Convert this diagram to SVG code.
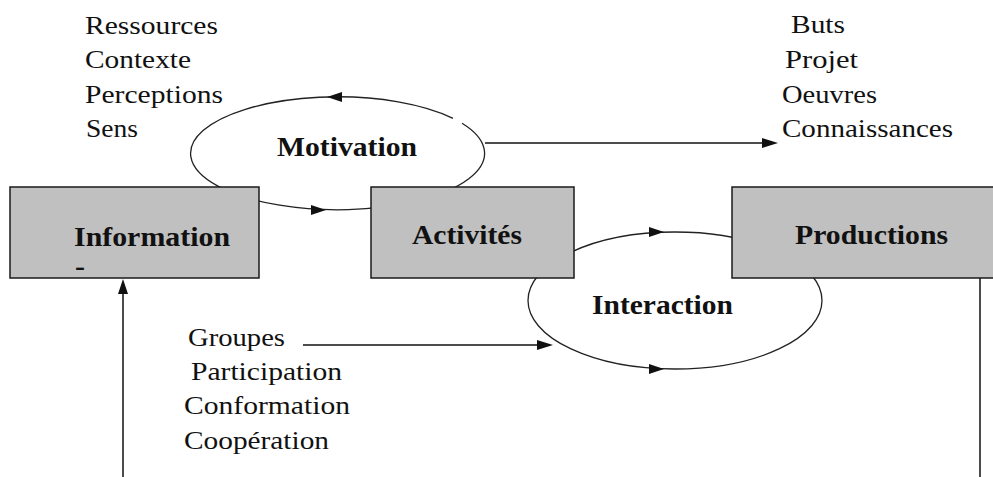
<svg xmlns="http://www.w3.org/2000/svg" width="993" height="477" viewBox="0 0 993 477">
<style>
.box{fill:#c0c0c0;stroke:#1a1a1a;stroke-width:1.5}
.ell{fill:none;stroke:#222;stroke-width:1.3}
.ln{fill:none;stroke:#111;stroke-width:1.5}
.ah{fill:#111}
.t{font-family:"Liberation Serif","Times New Roman",serif;font-size:26px;fill:#111}
.b{font-family:"Liberation Serif","Times New Roman",serif;font-size:27px;font-weight:bold;fill:#111}
</style>
<rect width="993" height="477" fill="#fff"/>
<g id="connectors">
  <g id="motivation-loop">
    <path class="ell" d="M462 123.2 A147 56.5 0 1 1 453 118.3"/>
    <polygon class="ah" points="327,97 342,92 342,102"/>
    <polygon class="ah" points="326,210 311,205 311,215"/>
  </g>
  <g id="interaction-loop">
    <ellipse class="ell" cx="675" cy="300.5" rx="147" ry="68.5"/>
    <polygon class="ah" points="664,232 649,227 649,237"/>
    <polygon class="ah" points="664,369 649,364 649,374"/>
  </g>
  <line class="ln" x1="485" y1="143" x2="764" y2="143"/>
  <polygon class="ah" points="778,143 762,138 762,148"/>
  <line class="ln" x1="303" y1="345" x2="540" y2="345"/>
  <polygon class="ah" points="553,345 537,340 537,350"/>
  <line class="ln" x1="123" y1="477" x2="123" y2="292"/>
  <polygon class="ah" points="123,279 118,294 128,294"/>
  <line class="ln" x1="980" y1="278" x2="980" y2="477"/>
</g>
<g id="motivation">
  <text class="b" x="277" y="156" textLength="140" lengthAdjust="spacingAndGlyphs">Motivation</text>
</g>
<g id="interaction">
  <text class="b" x="592" y="314" textLength="141" lengthAdjust="spacingAndGlyphs">Interaction</text>
</g>
<g id="information">
  <rect class="box" x="10" y="187" width="249" height="91"/>
  <text class="b" x="74" y="246" textLength="156" lengthAdjust="spacingAndGlyphs">Information</text>
  <text class="b" x="75" y="275" textLength="10" lengthAdjust="spacingAndGlyphs">-</text>
</g>
<g id="activites">
  <rect class="box" x="371" y="187" width="203" height="91"/>
  <text class="b" x="412" y="244" textLength="110" lengthAdjust="spacingAndGlyphs">Activités</text>
</g>
<g id="productions">
  <rect class="box" x="732" y="187" width="270" height="91"/>
  <text class="b" x="795" y="244" textLength="153" lengthAdjust="spacingAndGlyphs">Productions</text>
</g>
<g id="inputs">
  <text class="t" x="85" y="34" textLength="133" lengthAdjust="spacingAndGlyphs">Ressources</text>
  <text class="t" x="85" y="68" textLength="106" lengthAdjust="spacingAndGlyphs">Contexte</text>
  <text class="t" x="85" y="103" textLength="138" lengthAdjust="spacingAndGlyphs">Perceptions</text>
  <text class="t" x="86" y="137" textLength="52" lengthAdjust="spacingAndGlyphs">Sens</text>
</g>
<g id="outputs">
  <text class="t" x="791" y="33" textLength="54" lengthAdjust="spacingAndGlyphs">Buts</text>
  <text class="t" x="785" y="68" textLength="73" lengthAdjust="spacingAndGlyphs">Projet</text>
  <text class="t" x="782" y="103" textLength="95" lengthAdjust="spacingAndGlyphs">Oeuvres</text>
  <text class="t" x="782" y="137" textLength="171" lengthAdjust="spacingAndGlyphs">Connaissances</text>
</g>
<g id="groups">
  <text class="t" x="188" y="346" textLength="97" lengthAdjust="spacingAndGlyphs">Groupes</text>
  <text class="t" x="191" y="380" textLength="151" lengthAdjust="spacingAndGlyphs">Participation</text>
  <text class="t" x="184" y="414" textLength="166" lengthAdjust="spacingAndGlyphs">Conformation</text>
  <text class="t" x="184" y="449" textLength="145" lengthAdjust="spacingAndGlyphs">Coopération</text>
</g>
</svg>
